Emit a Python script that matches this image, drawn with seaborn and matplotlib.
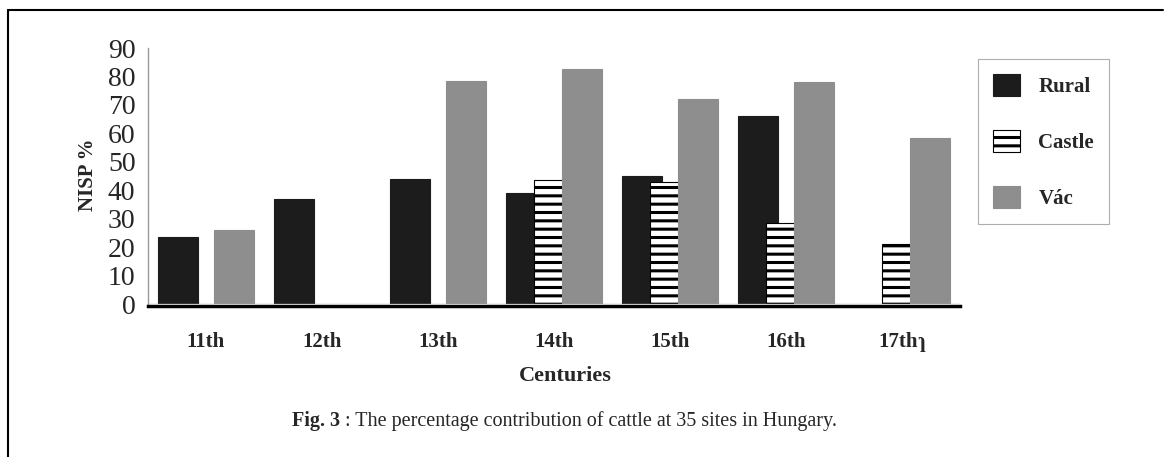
import matplotlib
matplotlib.use("Agg")
import matplotlib.pyplot as plt
import seaborn as sns
import numpy as np
import pandas as pd
from matplotlib.lines import Line2D
from matplotlib.patches import Patch
from matplotlib.ticker import FixedLocator, FixedFormatter

# ---- data ----
centuries = ["11th", "12th", "13th", "14th", "15th", "16th", "17th\u027f"]
rural = [23.5, 37.0, 44.0, 39.0, 45.0, 66.0, np.nan]
castle = [np.nan, np.nan, np.nan, 43.5, 43.0, 28.5, 21.0]
vac = [26.0, np.nan, 78.5, 82.5, 72.0, 78.0, 58.5]
series_names = ["Rural", "Castle", "Vác"]
yticks = list(range(0, 91, 10))
xlabel = "Centuries"
ylabel = "NISP %"
caption_bold = "Fig. 3"
caption_rest = " : The percentage contribution of cattle at 35 sites in Hungary."

sns.set_style("white")
plt.rcParams["font.family"] = ["Liberation Serif", "DejaVu Serif"]
plt.rcParams["hatch.linewidth"] = 2.2

W, H = 1173, 457
fig = plt.figure(figsize=(W / 100, H / 100), dpi=100)
ax = fig.add_axes([148 / W, 1 - 304 / H, (960 - 148) / W, (304 - 48) / H])

styles = {
    "Rural": dict(color="#1c1c1c", edgecolor="#1c1c1c", hatch=None),
    "Castle": dict(color="white", edgecolor="black", hatch="--"),
    "Vác": dict(color="#8e8e8e", edgecolor="#8e8e8e", hatch=None),
}
offsets = {"Rural": -0.241, "Castle": 0.0, "Vác": 0.241}
bar_w = 0.35
idx = np.arange(len(centuries))

for name, vals in zip(series_names, [rural, castle, vac]):
    df = pd.DataFrame({"pos": idx + offsets[name], "val": vals}).dropna()
    st = styles[name]
    kw = {}
    if st["hatch"]:
        kw["hatch"] = st["hatch"]
    sns.barplot(data=df, x="pos", y="val", native_scale=True, width=bar_w,
                color=st["color"], edgecolor=st["edgecolor"], linewidth=0.8,
                saturation=1, errorbar=None, ax=ax, **kw)

ax.set_xlim(-0.5, len(centuries) - 0.5)
ax.set_ylim(0, 90)
ax.set_xlabel("")
ax.set_ylabel("")
ax.xaxis.set_major_locator(FixedLocator(idx))
ax.xaxis.set_major_formatter(FixedFormatter(centuries))
ax.xaxis.set_minor_locator(FixedLocator(np.arange(0.5, len(centuries), 1)))
ax.tick_params(axis="x", which="major", length=0, pad=19, labelsize=15)
ax.tick_params(axis="x", which="minor", length=8, width=1, direction="inout", color="black")
ax.yaxis.set_major_locator(FixedLocator(yticks))
ax.yaxis.set_major_formatter(FixedFormatter([str(t) for t in yticks]))
ax.tick_params(axis="y", length=4, width=0.8, direction="inout", color="#888888", pad=7,
               labelsize=20)
for s in ["top", "right"]:
    ax.spines[s].set_visible(False)
ax.spines["left"].set_color("#999999")
ax.spines["left"].set_linewidth(1)
ax.spines["bottom"].set_color("black")
ax.spines["bottom"].set_linewidth(2.5)
ax.spines["bottom"].set_position(("outward", 1.5))
ax.axhline(0, color="#aaaaaa", lw=1, zorder=5)

fig.text(88 / W, 1 - 175 / H, ylabel, rotation=90, fontsize=15, fontweight="bold",
         ha="center", va="center")
fig.text(565 / W, 1 - 376 / H, xlabel, fontsize=16, fontweight="bold",
         ha="center", va="center")

t1 = fig.text(292 / W, 1 - 426 / H, caption_bold, fontsize=14.5, fontweight="bold",
              ha="left", va="baseline")
fig.canvas.draw()
for lab in ax.get_xticklabels():
    lab.set_fontweight("bold")
    lab.set_fontsize(15)
bb = t1.get_window_extent(renderer=fig.canvas.get_renderer())
fig.text(bb.x1 / W, 1 - 426 / H, caption_rest, fontsize=14.5, ha="left", va="baseline")

handles = [Patch(facecolor=styles[n]["color"], edgecolor=styles[n]["edgecolor"],
                 hatch=styles[n]["hatch"], linewidth=0.8) for n in series_names]
leg = fig.legend(handles, series_names, loc="upper left",
                 bbox_to_anchor=(978 / W, 1 - 59 / H), bbox_transform=fig.transFigure,
                 frameon=True, fancybox=False, edgecolor="#999999",
                 prop={"weight": "bold", "size": 15}, handlelength=1.3, handleheight=1.25,
                 labelspacing=1.6, handletextpad=0.9, borderpad=0.7, borderaxespad=0)
leg.get_frame().set_linewidth(0.8)

fig.add_artist(Line2D([8 / W, 1163 / W], [1 - 9.5 / H, 1 - 9.5 / H], color="black", lw=1.5,
                      transform=fig.transFigure))
fig.add_artist(Line2D([8 / W, 8 / W], [1 - 9.5 / H, 0], color="black", lw=1.5,
                      transform=fig.transFigure))

fig.savefig("out.png", dpi=100)
